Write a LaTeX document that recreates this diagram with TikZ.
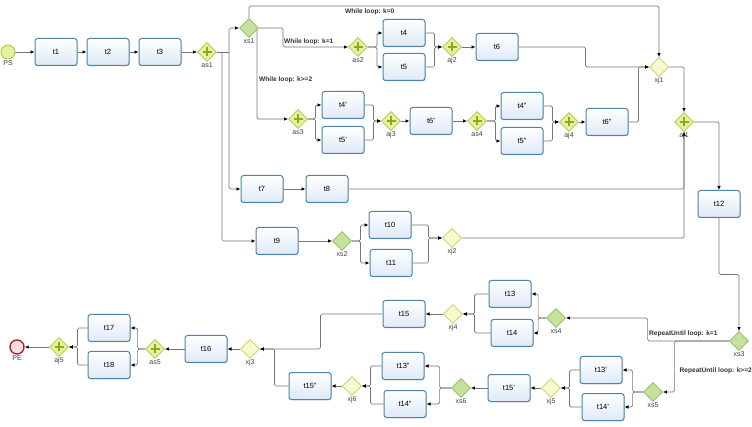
\documentclass[tikz,border=0pt]{standalone}
\usepackage{fontspec}
\setmainfont{Liberation Sans}
\usetikzlibrary{positioning, arrows.meta, shapes.geometric, shadows, backgrounds}
\definecolor{taskline}{RGB}{78,132,170}
\definecolor{taskfill}{RGB}{222,234,247}
\definecolor{gwline}{RGB}{178,196,70}
\definecolor{gwfill}{RGB}{230,240,160}
\definecolor{plusgreen}{RGB}{140,172,20}
\definecolor{xsline}{RGB}{140,186,90}
\definecolor{xsfill}{RGB}{196,226,158}
\definecolor{xjline}{RGB}{196,206,100}
\definecolor{xjfill}{RGB}{248,250,206}
\definecolor{flowgray}{RGB}{118,118,118}
\definecolor{endred}{RGB}{176,34,48}

\begin{document}
\begin{tikzpicture}[x=1pt, y=-1pt,
  task/.style={draw=taskline, line width=1pt, rounded corners=2.5pt, minimum width=42pt, minimum height=27pt, inner sep=0pt, top color=white, bottom color=taskfill, drop shadow={shadow xshift=0.8pt, shadow yshift=-0.8pt, opacity=0.2}, font=\fontsize{7.5}{8}\selectfont},
  gate/.style={diamond, aspect=1, minimum size=19pt, inner sep=0pt, line width=0.8pt},
  andgate/.style={gate, draw=gwline, fill=gwfill, path picture={\draw[plusgreen, line width=2.4pt] ([xshift=-4.5pt]path picture bounding box.center) -- ([xshift=4.5pt]path picture bounding box.center) ([yshift=-4.5pt]path picture bounding box.center) -- ([yshift=4.5pt]path picture bounding box.center);}},
  xsgate/.style={gate, draw=xsline, fill=xsfill},
  xjgate/.style={gate, draw=xjline, fill=xjfill},
  startev/.style={circle, minimum size=14pt, inner sep=0pt, draw=gwline, line width=0.9pt, fill=gwfill},
  endev/.style={circle, minimum size=14pt, inner sep=0pt, draw=endred, line width=1.4pt, fill=red!12},
  gwlabel/.style={font=\fontsize{7}{8}\selectfont, text=black!75, inner sep=0.5pt},
  looplabel/.style={font=\bfseries\fontsize{6.6}{7}\selectfont, text=black!80, inner sep=0pt},
  flow/.style={draw=flowgray, line width=0.7pt, rounded corners=1.5pt, -{Latex[length=4pt, width=3.5pt, black]}},
  plainflow/.style={draw=flowgray, line width=0.7pt, rounded corners=1.5pt}
]
  \useasboundingbox (0,0) rectangle (752,427);

  % upper part
  \node[startev, label={[gwlabel]below:PS}] (PS) at (8,52) {};
  \node[task] (t1) at (56,52) {t1};
  \node[task] (t2) at (108,52) {t2};
  \node[task] (t3) at (160,52) {t3};
  \node[andgate, label={[gwlabel]below:as1}] (as1) at (207,52) {};
  \coordinate (sp0) at (222,52);
  \coordinate (sp1) at (229,52);
  \node[xsgate, label={[gwlabel]below:xs1}] (xs1) at (249,28) {};

  \node[andgate, label={[gwlabel]below:as2}] (as2) at (358,47) {};
  \node[task] (t4) at (404,33) {t4};
  \node[task] (t5) at (404,67) {t5};
  \node[andgate, label={[gwlabel]below:aj2}] (aj2) at (452,47) {};
  \node[task] (t6) at (497,47) {t6};

  \node[andgate, label={[gwlabel]below:as3}] (as3) at (298,119) {};
  \node[task] (t4p) at (343,105) {t4'};
  \node[task] (t5p) at (343,140) {t5'};
  \node[andgate, label={[gwlabel]below:aj3}] (aj3) at (391,121) {};
  \node[task] (t6p) at (431,121) {t6'};
  \node[andgate, label={[gwlabel]below:as4}] (as4) at (477,121) {};
  \node[task] (t4pp) at (522,106) {t4''};
  \node[task] (t5pp) at (522,141) {t5''};
  \node[andgate, label={[gwlabel]below:aj4}] (aj4) at (569,122) {};
  \node[task] (t6pp) at (607,122) {t6''};

  \node[xjgate, label={[gwlabel]below:xj1}] (xj1) at (659,67) {};
  \node[andgate, label={[gwlabel]below:aj1}] (aj1) at (684,122) {};
  \node[task] (t12) at (719,204) {t12};

  \node[task] (t7) at (262,189) {t7};
  \node[task] (t8) at (327,189) {t8};
  \node[task] (t9) at (277,241) {t9};
  \node[xsgate, label={[gwlabel]below:xs2}] (xs2) at (342,241) {};
  \node[task] (t10) at (390,225) {t10};
  \node[task] (t11) at (391,263) {t11};
  \node[xjgate, label={[gwlabel]below:xj2}] (xj2) at (452,238) {};

  % lower part
  \node[xsgate, label={[gwlabel]below:xs3}] (xs3) at (739,341) {};
  \node[xsgate, label={[gwlabel]below:xs4}] (xs4) at (556,318) {};
  \node[task] (t13) at (510,294) {t13};
  \node[task] (t14) at (512,333) {t14};
  \node[xjgate, label={[gwlabel]below:xj4}] (xj4) at (453,314) {};
  \node[task] (t15) at (404,314) {t15};

  \node[xsgate, label={[gwlabel]below:xs5}] (xs5) at (653,392) {};
  \node[task] (t13p) at (601,370) {t13'};
  \node[task] (t14p) at (603,407) {t14'};
  \node[xjgate, label={[gwlabel]below:xj5}] (xj5) at (551,388) {};
  \node[task] (t15p) at (509,388) {t15'};
  \node[xsgate, label={[gwlabel]below:xs6}] (xs6) at (461,388) {};
  \node[task] (t13pp) at (403,366) {t13''};
  \node[task] (t14pp) at (405,404) {t14''};
  \node[xjgate, label={[gwlabel]below:xj6}] (xj6) at (352,386) {};
  \node[task] (t15pp) at (310,386) {t15''};

  \node[xjgate, label={[gwlabel]below:xj3}] (xj3) at (250,349) {};
  \node[task] (t16) at (206,349) {t16};
  \node[andgate, label={[gwlabel]below:as5}] (as5) at (155,349) {};
  \node[task] (t17) at (109,328) {t17};
  \node[task] (t18) at (109,365) {t18};
  \node[andgate, label={[gwlabel]below:aj5}] (aj5) at (59,347) {};
  \node[endev, label={[gwlabel]below:PE}] (PE) at (17,347) {};

  % loop labels
  \node[looplabel, anchor=west] (k0) at (345,12) {While loop: k=0};
  \node[looplabel, anchor=west] (k1) at (284,42) {While loop: k=1};
  \node[looplabel, anchor=west] (k2) at (259,80) {While loop: k>=2};
  \node[looplabel, anchor=west] (r1) at (649,334) {RepeatUntil loop: k=1};
  \node[looplabel, anchor=east] (r2) at (752,371) {RepeatUntil loop: k>=2};

  \begin{scope}[on background layer]
    \fill[white] (0,0) rectangle (752,427);
    \draw[flow] (PS) -- (t1);
    \draw[flow] (t1) -- (t2);
    \draw[flow] (t2) -- (t3);
    \draw[flow] (t3) -- (as1);
    \draw[plainflow] (as1.east) -- (sp1);
    \draw[flow] (sp1) |- (xs1.west);
    \draw[flow] (sp1) |- (t7.west);
    \draw[flow] (sp0) |- (t9.west);

    \draw[flow] (xs1.north) -- ++(0,-12) -| (xj1.north);
    \draw[flow] (xs1.east) -- ++(24,0) |- (as2.west);
    \draw[flow] ([xshift=8pt]xs1.center) |- (as3.west);

    \draw[flow] (as2.east) -- ++(9,0) |- (t4.west);
    \draw[flow] (as2.east) -- ++(9,0) |- (t5.west);
    \draw[flow] (t4.east) -- ++(9,0) |- (aj2.west);
    \draw[flow] (t5.east) -- ++(9,0) |- (aj2.west);
    \draw[flow] (aj2) -- (t6);
    \draw[flow] (t6.east) -- ++(67,0) |- (xj1.west);

    \draw[flow] (as3.east) -- ++(7.5,0) |- (t4p.west);
    \draw[flow] (as3.east) -- ++(7.5,0) |- (t5p.west);
    \draw[flow] (t4p.east) -- ++(9,0) |- (aj3.west);
    \draw[flow] (t5p.east) -- ++(9,0) |- (aj3.west);
    \draw[flow] (aj3) -- (t6p);
    \draw[flow] (t6p) -- (as4);
    \draw[flow] (as4.east) -- ++(8.5,0) |- (t4pp.west);
    \draw[flow] (as4.east) -- ++(8.5,0) |- (t5pp.west);
    \draw[flow] (t4pp.east) -- ++(9,0) |- (aj4.west);
    \draw[flow] (t5pp.east) -- ++(9,0) |- (aj4.west);
    \draw[flow] (aj4) -- (t6pp);
    \draw[flow] (t6pp.east) -- ++(10,0) |- (xj1.west);

    \draw[flow] (xj1.east) -| (aj1.north);
    \draw[flow] (aj1.east) -| (t12.north);
    \draw[flow] (t7) -- (t8);
    \draw[flow] (t8.east) -| (aj1.south);
    \draw[flow] (t9) -- (xs2);
    \draw[flow] (xs2.east) -- ++(8.5,0) |- (t10.west);
    \draw[flow] (xs2.east) -- ++(8.5,0) |- (t11.west);
    \draw[flow] (t10.east) -- ++(17,0) |- (xj2.west);
    \draw[flow] (t11.east) -- ++(16,0) |- (xj2.west);
    \draw[flow] (xj2.east) -| (aj1.south);

    \draw[flow] (t12.south) -- ++(0,56.5) -| (xs3.north);
    \draw[flow] (xs3.west) -- ++(-81.5,0) |- (xs4.east);
    \draw[flow] (xs3.west) -- ++(-54.5,0) |- (xs5.east);

    \draw[flow] (xs4.west) -- ++(-8,0) |- (t13.east);
    \draw[flow] (xs4.west) -- ++(-8,0) |- (t14.east);
    \draw[flow] (t13.west) -- ++(-14,0) |- (xj4.east);
    \draw[flow] (t14.west) -- ++(-16,0) |- (xj4.east);
    \draw[flow] (xj4) -- (t15);
    \draw[flow] (t15.west) -- ++(-62,0) |- (xj3.east);

    \draw[flow] (xs5.west) -- ++(-10.5,0) |- (t13p.east);
    \draw[flow] (xs5.west) -- ++(-10.5,0) |- (t14p.east);
    \draw[flow] (t13p.west) -- ++(-10,0) |- (xj5.east);
    \draw[flow] (t14p.west) -- ++(-12,0) |- (xj5.east);
    \draw[flow] (xj5) -- (t15p);
    \draw[flow] (t15p) -- (xs6);
    \draw[flow] (xs6.west) -- ++(-11.5,0) |- (t13pp.east);
    \draw[flow] (xs6.west) -- ++(-11.5,0) |- (t14pp.east);
    \draw[flow] (t13pp.west) -- ++(-11,0) |- (xj6.east);
    \draw[flow] (t14pp.west) -- ++(-13,0) |- (xj6.east);
    \draw[flow] (xj6) -- (t15pp);
    \draw[flow] (t15pp.west) -- ++(-14,0) |- (xj3.east);

    \draw[flow] (xj3) -- (t16);
    \draw[flow] (t16) -- (as5);
    \draw[flow] (as5.west) -- ++(-7.5,0) |- (t17.east);
    \draw[flow] (as5.west) -- ++(-7.5,0) |- (t18.east);
    \draw[flow] (t17.west) -- ++(-10,0) |- (aj5.east);
    \draw[flow] (t18.west) -- ++(-10,0) |- (aj5.east);
    \draw[flow] (aj5) -- (PE);
  \end{scope}
\end{tikzpicture}
\end{document}
